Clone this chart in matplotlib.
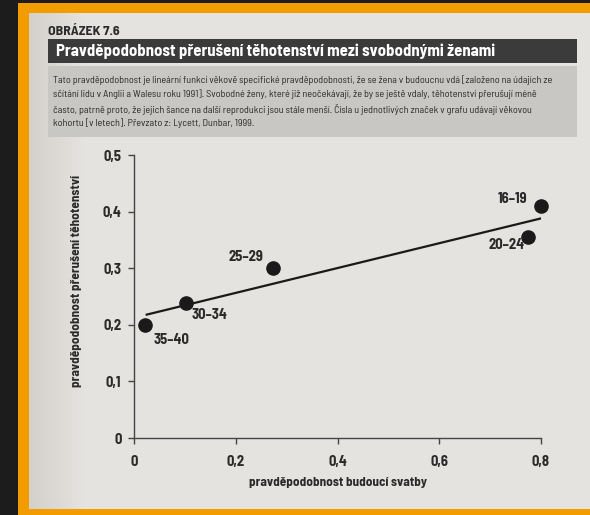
import numpy as np
import matplotlib.pyplot as plt
from matplotlib.colors import to_rgb
from matplotlib import font_manager as fm

# pick a condensed, DIN-like face if one is installed
available = {f.name for f in fm.fontManager.ttflist}
for cand in ['Barlow Semi Condensed', 'Barlow Condensed', 'Roboto Condensed',
             'Saira Semi Condensed', 'PT Sans Narrow', 'Archivo Narrow',
             'Liberation Sans Narrow', 'DejaVu Sans']:
    if cand in available:
        FONT = cand
        break
plt.rcParams['font.family'] = [FONT, 'DejaVu Sans']

# data
cohorts = ['16–19', '20–24', '25–29', '30–34', '35–40']
marriage_p = [0.80, 0.775, 0.273, 0.102, 0.022]
abort_p = [0.410, 0.355, 0.301, 0.239, 0.200]
label_offsets = [(-29, 7), (-22, -8), (-27, 11), (24, -12), (26, -15)]  # pixels
fit_x = [0.025, 0.80]
fit_y = [0.218, 0.388]

W, H = 590, 515
PAPER = '#e5e3e0'
fig = plt.figure(figsize=(W / 100, H / 100), dpi=100, facecolor=PAPER)

# ---- page background as a pixel image ----------------------------------------
img = np.zeros((H, W, 3))
img[:] = to_rgb(PAPER)
paper_l, paper_r = np.array(to_rgb('#d4d0ca')), np.array(to_rgb(PAPER))
t = np.clip(np.arange(W - 29) / 55.0, 0, 1)[:, None]
img[13:509, 29:W] = (paper_l * (1 - t) + paper_r * t)[None, :, :]
def fill(x0, y0, x1, y1, c):
    img[y0:y1, x0:x1] = to_rgb(c)
fill(0, 0, 18, H, '#1c1c1c')          # dark strip left
fill(0, 0, W, 3, '#1c1c1c')           # dark strip top
fill(18, 3, 29, H, '#f39c00')         # orange frame: left
fill(18, 3, W, 13, '#f39c00')         # top
fill(18, 509, W, H, '#f39c00')        # bottom
fill(48, 39, 577, 63, '#3b3b3b')      # title banner
fill(48, 66, 577, 137, '#c9c7c4')     # caption box
fig.figimage(img, xo=0, yo=0, origin='upper', zorder=-20)

bg = fig.add_axes([0, 0, 1, 1], zorder=-10)
bg.set_xlim(0, W); bg.set_ylim(H, 0); bg.axis('off')

bg.text(48, 31, 'OBRÁZEK 7.6', fontsize=10, fontweight='bold',
        color='#2b2b2b', va='center', ha='left')
bg.text(56, 51, 'Pravděpodobnost přerušení těhotenství mezi svobodnými ženami',
        fontsize=12, fontweight='bold', color='white', va='center', ha='left')
caption = ('Tato pravděpodobnost je lineární funkcí věkově specifické pravděpodobnosti, že se žena v budoucnu vdá [založeno na údajích ze\n'
           'sčítání lidu v Anglii a Walesu roku 1991]. Svobodné ženy, které již neočekávají, že by se ještě vdaly, těhotenství přerušují méně\n'
           'často, patrně proto, že jejich šance na další reprodukci jsou stále menší. Čísla u jednotlivých značek v grafu udávají věkovou\n'
           'kohortu [v letech]. Převzato z: Lycett, Dunbar, 1999.')
bg.text(53, 102, caption, fontsize=7.3, color='#2a2a2a', va='center', ha='left',
        linespacing=1.5)
bg.text(77, 281, 'pravděpodobnost přerušení těhotenství', rotation=90,
        fontsize=9.5, fontweight='bold', color='#2a2a2a', ha='center', va='center')
bg.text(338, 483, 'pravděpodobnost budoucí svatby',
        fontsize=9.5, fontweight='bold', color='#2a2a2a', ha='center', va='center')

# ---- chart ------------------------------------------------------------------
ax = fig.add_axes([134 / W, 77 / H, 407 / W, 283 / H], zorder=1)
ax.set_facecolor('none')
ax.plot(fit_x, fit_y, color='#1a1a1a', lw=1.6, zorder=2)
ax.plot(marriage_p, abort_p, 'o', ms=9.5, color='#1a1a1a', zorder=3, clip_on=False)
for name, x, y, (dx, dy) in zip(cohorts, marriage_p, abort_p, label_offsets):
    ax.annotate(name, (x, y), xytext=(dx, dy), textcoords='offset pixels',
                ha='center', va='center', fontsize=10.5, fontweight='bold', color='#2a2a2a')

ax.set_xlim(0, 0.8)
ax.set_ylim(0, 0.5)
ax.set_xticks([0, 0.2, 0.4, 0.6, 0.8])
ax.set_xticklabels(['0', '0,2', '0,4', '0,6', '0,8'])
ax.set_yticks([0, 0.1, 0.2, 0.3, 0.4, 0.5])
ax.set_yticklabels(['0', '0,1', '0,2', '0,3', '0,4', '0,5'])
for s in ['top', 'right']:
    ax.spines[s].set_visible(False)
for s in ['left', 'bottom']:
    ax.spines[s].set_color('#444444')
    ax.spines[s].set_linewidth(1.0)
ax.tick_params(length=4, width=1, color='#444444', labelsize=10.5, labelcolor='#2a2a2a')
ax.tick_params(axis='x', pad=8)
ax.tick_params(axis='y', pad=5)
for lab in ax.get_xticklabels() + ax.get_yticklabels():
    lab.set_fontweight('bold')

fig.savefig('out.png', dpi=100, facecolor=PAPER)
